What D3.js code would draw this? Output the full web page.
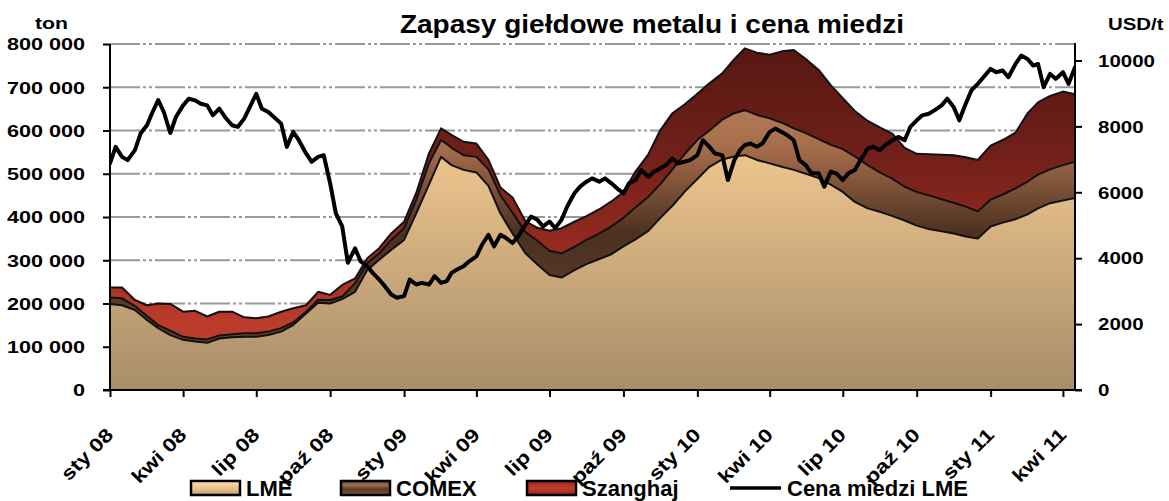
<!DOCTYPE html>
<html>
<head>
<meta charset="UTF-8">
<script src="https://d3js.org/d3.v7.min.js"></script>
<style>
  body { margin: 0; background: #fff; }
  text { font-family: Arial, "Liberation Sans", sans-serif; font-weight: bold; fill: #000; }
</style>
</head>
<body>
<div id="chart"></div>
<script>
// stocks, thousand tonnes, sampled on the 1st and 16th of each month from Jan 2008
var lme = [199,196,185,162,143,127,116,112,109,119,122,123,123,127,135,150,177,202,200,210,
           227,277,301,324,347,408,475,539,520,509,503,472,408,362,316,290,266,260,277,291,
           303,314,332,348,368,398,426,458,488,516,533,540,543,532,524,516,509,500,490,475,
           458,435,420,412,402,392,380,372,367,362,355,350,378,387,395,406,420,432,438,444];
var comex = [15,16,9,9,7,10,7,7,8,7,7,8,8,8,8,6,4,6,8,6,
             20,16,15,23,27,31,49,39,40,34,36,38,42,48,49,55,56,56,54,56,
             59,64,66,74,79,78,84,87,90,84,92,100,104,104,104,102,96,94,90,92,
             99,105,100,91,86,78,78,78,74,71,69,63,62,65,71,76,78,78,82,84];
var szanghaj = [23,25,14,25,50,62,58,64,53,55,52,37,35,35,38,33,15,19,12,27,
                11,11,12,15,15,16,23,27,30,31,31,22,18,35,25,30,46,58,58,55,
                56,58,60,83,98,125,130,115,107,109,107,125,143,144,147,165,181,171,160,138,
                118,105,102,104,104,90,88,95,103,110,114,119,125,126,129,158,167,170,170,156];

// LME copper price, USD/t, sampled on the 1st, 8th, 16th and 23rd of each month
var cena = [6875,7380,7075,6976, 7278,7782,8033,8436, 8800,8436,7800,8285, 8637,8839,8789,8688,
            8637,8335,8537,8285, 8033,7983,8235,8587, 8990,8537,8436,8285, 8084,7378,7832,7580,
            7178,6926,7076,7126, 6272,5366,4963,3860, 4300,3900,3755,3554, 3352,3151,2899,2798,
            2849,3352,3201,3251, 3201,3453,3252,3302, 3554,3654,3755,3906, 4057,4409,4711,4359,
            4711,4610,4460,4661, 5013,5265,5164,4963, 5113,4913,5164,5567, 5970,6171,6322,6423,
            6322,6423,6272,6121, 5970,6272,6372,6674, 6473,6624,6725,6825, 7026,6876,6926,6976,
            7127,7580,7378,7177, 7127,6372,6976,7278, 7429,7480,7379,7480, 7832,7932,7832,7731,
            7580,6976,6825,6574, 6574,6171,6624,6574, 6372,6574,6674,6976, 7328,7379,7278,7429,
            7580,7681,7580,7983, 8184,8335,8385,8486, 8637,8839,8587,8184, 8688,9090,9291,9493,
            9744,9643,9694,9493, 9895,10147,10046,9845, 9895,9190,9593,9442, 9643,9291,9794];

var monthNames = ["sty","lut","mar","kwi","maj","cze","lip","sie","wrz","paź","lis","gru"];
var yTicksLeft = [0,100000,200000,300000,400000,500000,600000,700000,800000];
var yTicksRight = [0,2000,4000,6000,8000,10000];
var seriesNames = ["LME","COMEX","Szanghaj","Cena miedzi LME"];

var width = 1169, height = 501;
var pLeft = 110, pRight = 1075, pTop = 44, pBottom = 390;

var svg = d3.select("#chart").append("svg")
    .attr("width", width)
    .attr("height", height);

var start = new Date(2008, 0, 1);
function halfMonth(i) { return new Date(2008, Math.floor(i / 2), i % 2 ? 16 : 1); }
function quarterMonth(i) { return new Date(2008, Math.floor(i / 4), [1, 8, 16, 23][i % 4]); }

var stockData = lme.map(function(v, i) {
    return {date: halfMonth(i), lme: v * 1000, comex: comex[i] * 1000, szanghaj: szanghaj[i] * 1000};
});
var priceData = cena.map(function(v, i) { return {date: quarterMonth(i), value: v}; });

var x = d3.scaleTime().domain([start, new Date(2011, 3, 16)]).range([pLeft, pRight]);
var yL = d3.scaleLinear().domain([0, 800000]).range([pBottom, pTop]);
var yR = d3.scaleLinear().domain([0, 10500]).range([pBottom, pTop]);

// gradients
var defs = svg.append("defs");
function grad(id, stops, vertical) {
    var g = defs.append("linearGradient").attr("id", id);
    if (vertical) {
        g.attr("gradientUnits", "userSpaceOnUse").attr("x1", 0).attr("x2", 0).attr("y1", pTop).attr("y2", pBottom);
    } else {
        g.attr("x1", 0).attr("x2", 0).attr("y1", 0).attr("y2", 1);
    }
    stops.forEach(function(s) { g.append("stop").attr("offset", s[0]).attr("stop-color", s[1]); });
}
grad("gLme", [[0, "#f7cf97"], [0.35, "#eac28c"], [1, "#a88d6a"]], true);
grad("gComex", [[0, "#c48e66"], [0.3, "#a66d4b"], [0.55, "#4b3020"], [1, "#6e4a32"]], true);
grad("gSzang", [[0, "#551812"], [0.3, "#6f1f19"], [0.58, "#942a20"], [0.8, "#bb3b2b"], [1, "#c2412f"]], true);
grad("lLme", [[0, "#fbe2bb"], [0.5, "#ebc48e"], [1, "#c89e6c"]], false);
grad("lComex", [[0, "#6a4a34"], [0.3, "#9a7050"], [0.6, "#5a3a28"], [1, "#7a5438"]], false);
grad("lSzang", [[0, "#8a2a20"], [0.5, "#c63a2a"], [1, "#8a2a20"]], false);

defs.append("clipPath").attr("id", "plot")
  .append("rect").attr("x", pLeft).attr("y", pTop - 2).attr("width", pRight - pLeft).attr("height", pBottom - pTop + 2);

// gridlines
svg.append("g").selectAll("line")
    .data(yTicksLeft.filter(function(d) { return d > 0; }))
  .enter().append("line")
    .attr("x1", pLeft).attr("x2", pRight)
    .attr("y1", function(d) { return yL(d); })
    .attr("y2", function(d) { return yL(d); })
    .attr("stroke", "#999")
    .attr("stroke-width", 2)
    .attr("stroke-dasharray", "30,3,3,3,3,3");

// stacked areas
var stack = d3.stack().keys(["lme", "comex", "szanghaj"]);
var layers = stack(stockData);
var fills = ["url(#gLme)", "url(#gComex)", "url(#gSzang)"];

var area = d3.area()
    .x(function(d) { return x(d.data.date); })
    .y0(function(d) { return yL(d[0]); })
    .y1(function(d) { return yL(d[1]); });
var topLine = d3.line()
    .x(function(d) { return x(d.data.date); })
    .y(function(d) { return yL(d[1]); });

var plot = svg.append("g").attr("clip-path", "url(#plot)");
plot.selectAll("path.area")
    .data(layers)
  .enter().append("path")
    .attr("class", "area")
    .attr("d", area)
    .attr("fill", function(d, i) { return fills[i]; });
plot.selectAll("path.edge")
    .data(layers)
  .enter().append("path")
    .attr("class", "edge")
    .attr("d", topLine)
    .attr("fill", "none")
    .attr("stroke", "#111")
    .attr("stroke-width", 2)
    .attr("stroke-linejoin", "round");

// price line
plot.append("path")
    .datum(priceData)
    .attr("d", d3.line()
        .x(function(d) { return x(d.date); })
        .y(function(d) { return yR(d.value); }))
    .attr("fill", "none")
    .attr("stroke", "#000")
    .attr("stroke-width", 4)
    .attr("stroke-linejoin", "round")
    .attr("stroke-linecap", "round");

// axes
function stretch(sel, f) {
    sel.each(function() {
        var w = this.getComputedTextLength();
        d3.select(this).attr("textLength", w * f).attr("lengthAdjust", "spacingAndGlyphs");
    });
}
var pl = d3.formatLocale({decimal: ",", thousands: " ", grouping: [3], currency: ["", ""]});

var axL = svg.append("g")
    .attr("transform", "translate(" + pLeft + ",0)")
    .call(d3.axisLeft(yL).tickValues(yTicksLeft).tickFormat(pl.format(",d")).tickSize(7).tickSizeOuter(0).tickPadding(18));
var axR = svg.append("g")
    .attr("transform", "translate(" + pRight + ",0)")
    .call(d3.axisRight(yR).tickValues(yTicksRight).tickFormat(d3.format("d")).tickSize(7).tickSizeOuter(0).tickPadding(16));

var qTicks = d3.timeMonth.every(3).range(start, new Date(2011, 4, 1));
var axB = svg.append("g")
    .attr("transform", "translate(0," + pBottom + ")")
    .call(d3.axisBottom(x).tickValues(qTicks).tickSize(7).tickSizeOuter(0)
        .tickFormat(function(d) { return monthNames[d.getMonth()] + " " + d3.timeFormat("%y")(d); }));

[axL, axR, axB].forEach(function(a) {
    a.select(".domain").attr("stroke", "#000").attr("stroke-width", 2);
    a.selectAll(".tick line").attr("stroke", "#000").attr("stroke-width", 2);
    a.selectAll("text").attr("font-family", "Arial, 'Liberation Sans', sans-serif").attr("font-weight", "bold");
});
axL.select(".domain").attr("d", "M0," + pTop + "V" + (pBottom + 1));
axR.select(".domain").attr("d", "M0," + (pTop - 1) + "V" + (pBottom + 1));
axB.select(".domain").attr("d", "M" + (pLeft - 7) + ",0H" + (pRight + 7));

axL.selectAll("text").attr("font-size", 16).attr("dy", "0.36em").call(stretch, 1.35);
axR.selectAll("text").attr("font-size", 16).attr("dy", "0.36em").call(stretch, 1.28);
axB.selectAll("text")
    .attr("font-size", 19)
    .attr("text-anchor", "end")
    .attr("x", 0).attr("y", 0).attr("dy", 0)
    .attr("transform", "translate(4,46) rotate(-45)")
    .call(stretch, 1.2);

// titles
svg.append("text")
    .attr("x", 652).attr("y", 33)
    .attr("text-anchor", "middle")
    .attr("font-size", 25)
    .text("Zapasy giełdowe metalu i cena miedzi")
    .call(stretch, 1.12);
svg.append("text")
    .attr("x", 35).attr("y", 29)
    .attr("font-size", 17)
    .text("ton")
    .call(stretch, 1.25);
svg.append("text")
    .attr("x", 1108).attr("y", 30)
    .attr("font-size", 17)
    .text("USD/t")
    .call(stretch, 1.2);

// legend
var legendX = [191, 341, 527, 730];
var legendFill = ["url(#lLme)", "url(#lComex)", "url(#lSzang)"];
var legend = svg.append("g").attr("transform", "translate(0,488)");
legend.selectAll("rect")
    .data(legendFill)
  .enter().append("rect")
    .attr("x", function(d, i) { return legendX[i]; })
    .attr("y", -7)
    .attr("width", 49)
    .attr("height", 14)
    .attr("fill", function(d) { return d; })
    .attr("stroke", "#000")
    .attr("stroke-width", 2.5);
legend.append("line")
    .attr("x1", legendX[3]).attr("x2", legendX[3] + 51)
    .attr("y1", 0).attr("y2", 0)
    .attr("stroke", "#000")
    .attr("stroke-width", 3.5);
legend.selectAll("text")
    .data(seriesNames)
  .enter().append("text")
    .attr("x", function(d, i) { return legendX[i] + (i === 3 ? 57 : 55); })
    .attr("y", 8)
    .attr("font-size", 22)
    .text(function(d) { return d; });
</script>
</body>
</html>
